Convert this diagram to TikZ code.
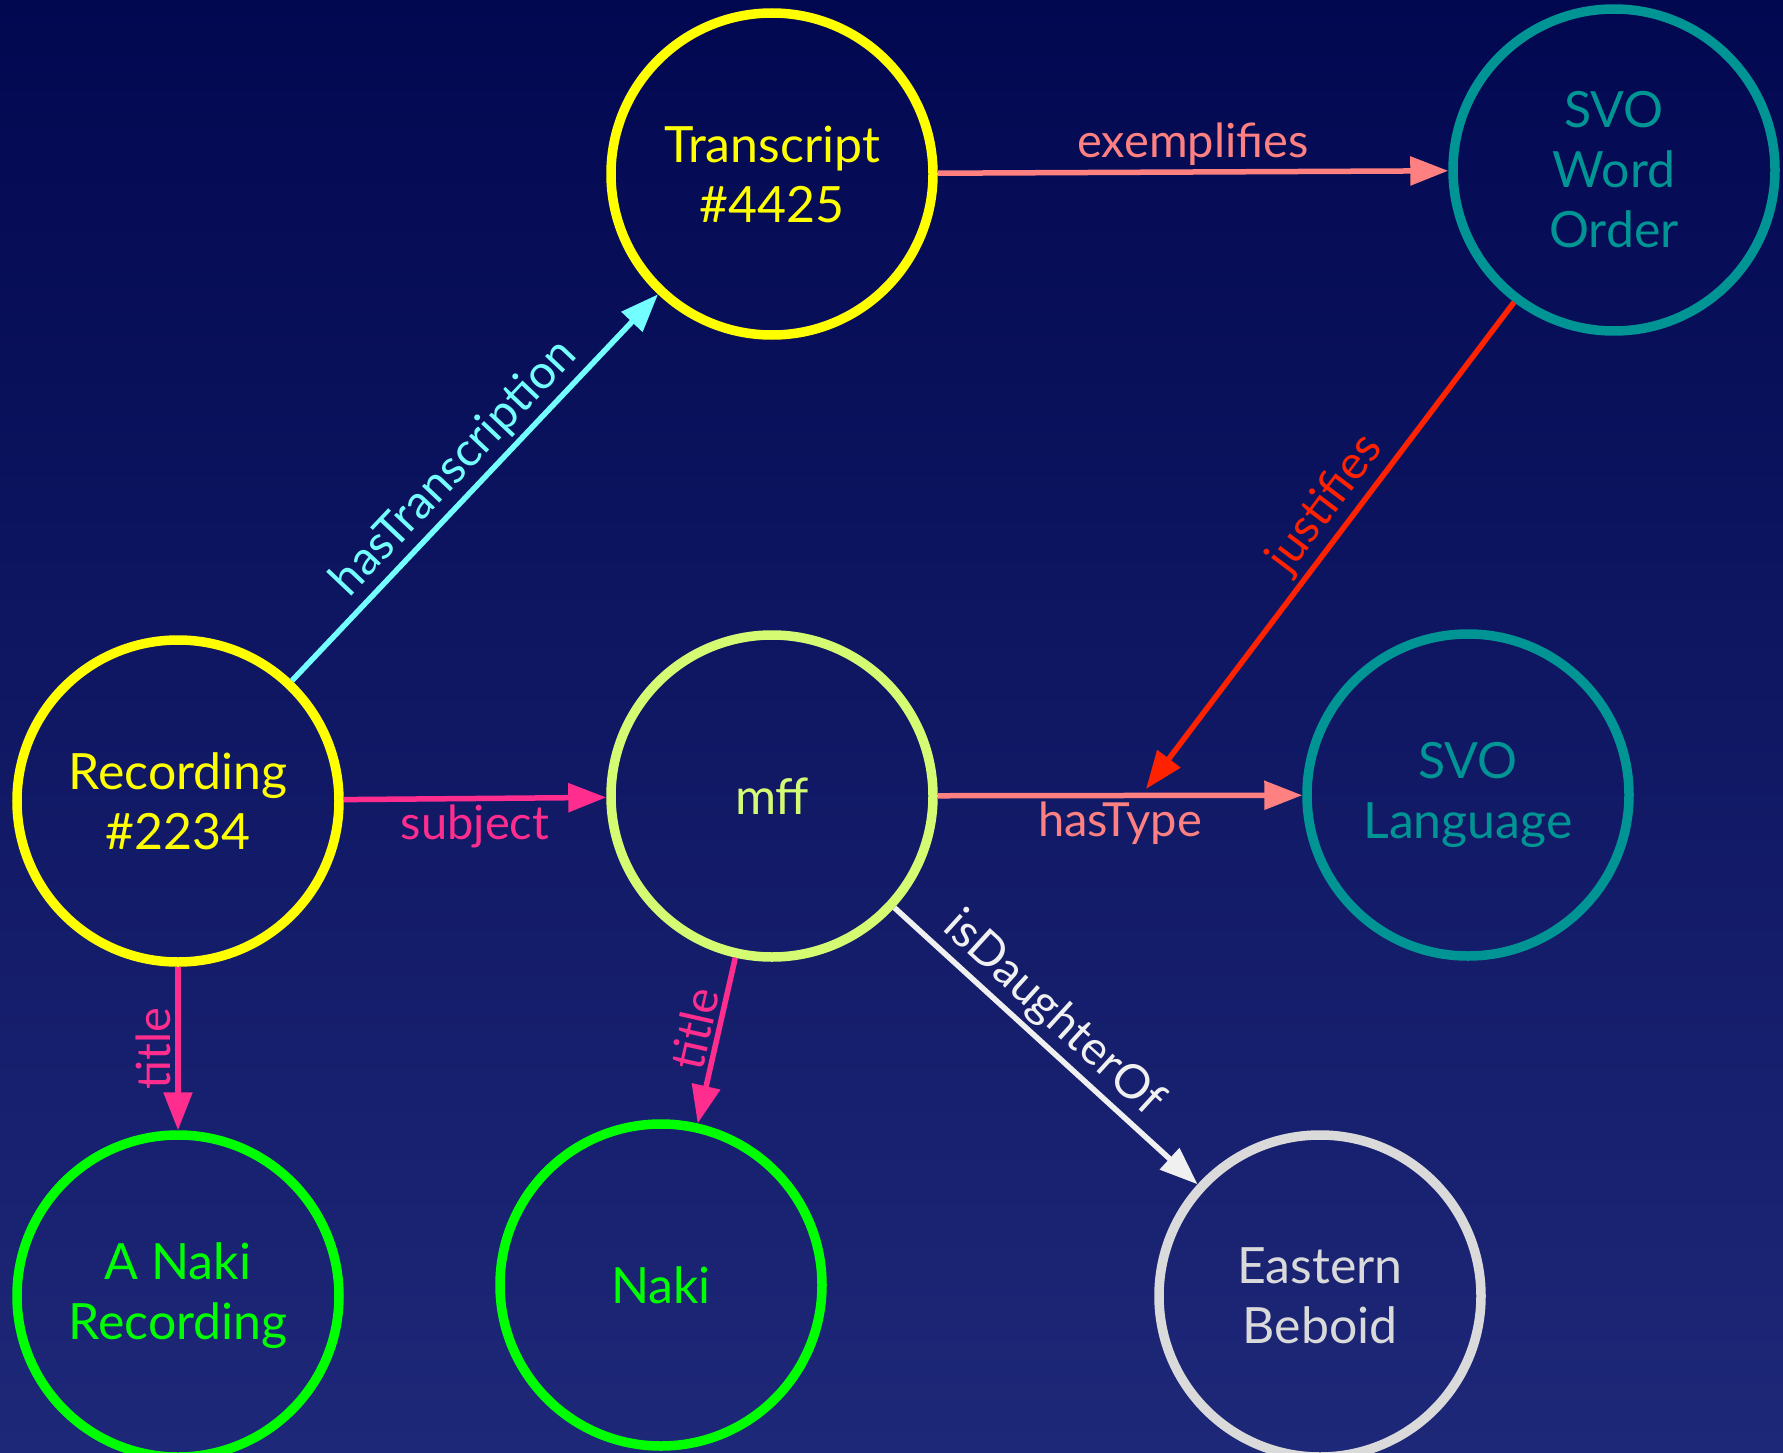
\documentclass[tikz,border=0pt]{standalone}
\usepackage{fontspec}
\setmainfont{Lato}
\usetikzlibrary{arrows.meta}
\definecolor{bgtop}{HTML}{020850}
\definecolor{bgbot}{HTML}{1E2878}
\definecolor{cyellow}{HTML}{FFFF00}
\definecolor{cteal}{HTML}{009494}
\definecolor{cmff}{HTML}{D5FB73}
\definecolor{cgreen}{HTML}{00FF00}
\definecolor{cgray}{HTML}{DADADA}
\definecolor{ccyan}{HTML}{73FFFF}
\definecolor{csalmon}{HTML}{FF8080}
\definecolor{cpink}{HTML}{FF2D8E}
\definecolor{cred}{HTML}{FF2200}
\definecolor{cwhite}{HTML}{F0F0F0}
\begin{document}
\begin{tikzpicture}[x=1pt,y=-1pt,
  vnode/.style={circle, draw, line width=9.5pt, minimum size=322pt, inner sep=0pt, align=center, font=\fontsize{50}{60}\selectfont},
  rel/.style={line width=5.5pt, -{Triangle[length=38pt,width=28pt]}},
  lbl/.style={font=\fontsize{47}{52}\selectfont, inner sep=4pt}]
\shade[top color=bgtop, bottom color=bgbot] (0,0) rectangle (1783,1453);
\useasboundingbox (0,0) rectangle (1783,1453);
\node[vnode, draw=cyellow, text=cyellow] (tr) at (772,174) {Transcript\\\#4425};
\node[vnode, draw=cteal, text=cteal] (swo) at (1614,170) {SVO\\Word\\Order};
\node[vnode, draw=cyellow, text=cyellow] (rec) at (178,801) {Recording\\\#2234};
\node[vnode, draw=cmff, text=cmff] (mff) at (772,796) {mff};
\node[vnode, draw=cteal, text=cteal] (svl) at (1468,795) {SVO\\Language};
\node[vnode, draw=cgreen, text=cgreen] (anr) at (178,1296) {A Naki\\Recording};
\node[vnode, draw=cgreen, text=cgreen] (naki) at (661,1285) {Naki};
\node[vnode, draw=cgray, text=cgray] (eb) at (1320,1296) {Eastern\\Beboid};
\coordinate (jt) at (1146,789);

\draw[rel, ccyan] (rec) -- (tr) node[midway, sloped, above, lbl, text=ccyan] {hasTranscription};
\draw[rel, csalmon] (tr) -- (swo) node[midway, above, lbl, text=csalmon] {exemplifies};
\draw[rel, cpink] (rec) -- (mff) node[midway, below, lbl, text=cpink] {subject};
\draw[rel, csalmon] (mff) -- (svl) node[midway, below, lbl, text=csalmon] {hasType};
\draw[rel, cred] (swo) -- (jt) node[pos=0.45, sloped, above, lbl, text=cred] {justifies};
\draw[rel, cpink] (rec) -- (anr) node[midway, rotate=90, anchor=south, lbl, text=cpink] {title};
\draw[rel, cpink] (mff) -- (naki) node[pos=0.46, sloped, above, lbl, text=cpink] {title};
\draw[rel, cwhite] (mff) -- (eb) node[pos=0.46, sloped, above, lbl, text=cwhite] {isDaughterOf};
\end{tikzpicture}
\end{document}
